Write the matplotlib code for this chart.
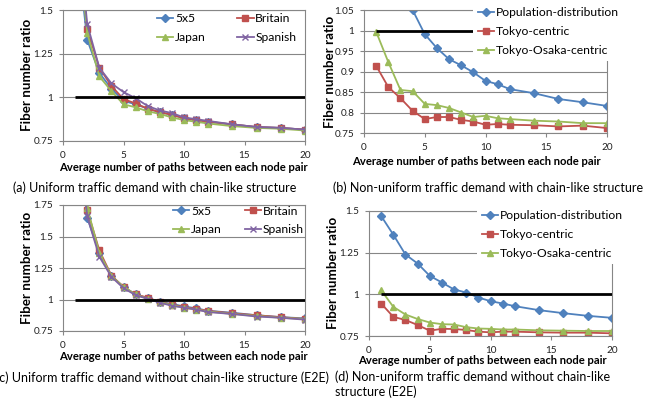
import matplotlib
matplotlib.use("Agg")
import matplotlib.pyplot as plt

plt.rcParams['font.family'] = ['Lato', 'DejaVu Sans']

W, H = 670, 409

paths = [1, 2, 3, 4, 5, 6, 7, 8, 9, 10, 11, 12, 14, 16, 18, 20]
ref_x = [1, 20]
ref_y = [1, 1]

# (a) uniform, chain-like
a_5x5 = [1.95, 1.33, 1.14, 1.05, 0.98, 0.96, 0.935, 0.915, 0.90, 0.88, 0.87, 0.86, 0.845, 0.83, 0.825, 0.815]
a_britain = [2.10, 1.39, 1.17, 1.065, 0.99, 0.965, 0.935, 0.915, 0.90, 0.88, 0.87, 0.86, 0.845, 0.83, 0.825, 0.815]
a_japan = [2.05, 1.37, 1.12, 1.036, 0.96, 0.943, 0.92, 0.905, 0.885, 0.87, 0.86, 0.85, 0.835, 0.825, 0.82, 0.81]
a_spanish = [2.15, 1.42, 1.17, 1.08, 1.03, 0.995, 0.95, 0.925, 0.91, 0.885, 0.875, 0.865, 0.845, 0.83, 0.825, 0.815]

# (b) non-uniform, chain-like
b_pop_x = [4, 5, 6, 7, 8, 9, 10, 11, 12, 14, 16, 18, 20]
b_pop = [1.05, 0.991, 0.957, 0.930, 0.915, 0.898, 0.877, 0.869, 0.857, 0.847, 0.833, 0.825, 0.816]
b_tokyo = [0.914, 0.862, 0.835, 0.804, 0.784, 0.789, 0.789, 0.782, 0.778, 0.770, 0.772, 0.770, 0.769, 0.766, 0.768, 0.762]
b_osaka = [0.997, 0.923, 0.855, 0.852, 0.821, 0.818, 0.811, 0.800, 0.789, 0.792, 0.786, 0.784, 0.780, 0.778, 0.774, 0.774]

# (c) uniform, E2E
c_5x5 = [2.6, 1.65, 1.37, 1.186, 1.10, 1.04, 1.01, 0.98, 0.965, 0.945, 0.93, 0.91, 0.895, 0.875, 0.86, 0.85]
c_britain = [2.7, 1.71, 1.39, 1.19, 1.10, 1.04, 1.015, 0.98, 0.96, 0.94, 0.925, 0.91, 0.89, 0.875, 0.86, 0.845]
c_japan = [2.8, 1.73, 1.37, 1.186, 1.10, 1.04, 1.005, 0.98, 0.955, 0.935, 0.92, 0.905, 0.885, 0.87, 0.855, 0.845]
c_spanish = [2.6, 1.66, 1.34, 1.18, 1.09, 1.035, 1.005, 0.975, 0.95, 0.935, 0.92, 0.90, 0.885, 0.865, 0.855, 0.84]

# (d) non-uniform, E2E
d_pop = [1.47, 1.358, 1.239, 1.185, 1.111, 1.071, 1.029, 1.011, 0.981, 0.959, 0.945, 0.929, 0.905, 0.887, 0.871, 0.859]
d_tokyo = [0.945, 0.865, 0.846, 0.816, 0.782, 0.793, 0.792, 0.786, 0.776, 0.772, 0.776, 0.776, 0.772, 0.770, 0.770, 0.766]
d_osaka = [1.025, 0.925, 0.879, 0.852, 0.831, 0.821, 0.819, 0.803, 0.795, 0.793, 0.789, 0.789, 0.784, 0.782, 0.780, 0.780]

captions = ["(a) Uniform traffic demand with chain-like structure",
            "(b) Non-uniform traffic demand with chain-like structure",
            "(c) Uniform traffic demand without chain-like structure (E2E)",
            "(d) Non-uniform traffic demand without chain-like\nstructure (E2E)"]

blue, red, green, purple = "#4F81BD", "#C0504D", "#9BBB59", "#8064A2"
grey = "#868686"


def box(l, t, r, b):
    return [l / W, 1 - b / H, (r - l) / W, (b - t) / H]


def fmt(v):
    s = ("%.2f" % v).rstrip("0").rstrip(".")
    return s


def setup(ax, yticks):
    ax.set_xlim(0, 20)
    ax.set_ylim(yticks[0], yticks[-1])
    ax.set_xticks([0, 5, 10, 15, 20])
    ax.set_yticks(yticks)
    ax.set_yticklabels([fmt(v) for v in yticks])
    ax.tick_params(labelsize=7.2, length=3, color=grey, pad=4, labelcolor='#222222')
    for sp in ax.spines.values():
        sp.set_color(grey)
        sp.set_linewidth(0.8)
    ax.grid(axis='y', color=grey, lw=0.8)
    ax.set_axisbelow(True)
    ax.plot(ref_x, ref_y, color='black', lw=2, zorder=3, solid_capstyle='butt')


def legend4(ax, x, y, colsp):
    h, l = ax.get_legend_handles_labels()
    order = [0, 2, 1, 3]
    ax.legend([h[i] for i in order], [l[i] for i in order], ncol=2,
              loc='upper left', bbox_to_anchor=(x, y), frameon=False,
              fontsize=8.7, handlelength=1.35, handletextpad=0.15,
              columnspacing=colsp, labelspacing=0.65, borderpad=0,
              borderaxespad=0)


def legend3(ax, x, y):
    leg = ax.legend(loc='upper left', bbox_to_anchor=(x, y), fontsize=8.7,
                    handlelength=1.35, handletextpad=0.15, labelspacing=0.65,
                    borderpad=0.4, borderaxespad=0, framealpha=1, fancybox=False)
    leg.get_frame().set_edgecolor('none')


fig = plt.figure(figsize=(W / 100, H / 100), dpi=100)

mk = dict(ms=5, lw=1.3)
dk = dict(ms=4, lw=1.3)

ax = fig.add_axes(box(63, 10, 305, 141))
setup(ax, [0.75, 1, 1.25, 1.5])
ax.plot(paths, a_5x5, '-D', color=blue, label='5x5', **dk)
ax.plot(paths, a_britain, '-s', color=red, label='Britain', **mk)
ax.plot(paths, a_japan, '-^', color=green, label='Japan', **mk)
ax.plot(paths, a_spanish, '-x', color=purple, label='Spanish', **mk)
legend4(ax, 0.388, 0.975, 2.6)

ax = fig.add_axes(box(364, 10, 607, 133))
setup(ax, [0.75, 0.8, 0.85, 0.9, 0.95, 1, 1.05])
ax.plot(b_pop_x, b_pop, '-D', color=blue, label='Population-distribution', **dk)
ax.plot(paths, b_tokyo, '-s', color=red, label='Tokyo-centric', **mk)
ax.plot(paths, b_osaka, '-^', color=green, label='Tokyo-Osaka-centric', **mk)
legend3(ax, 0.449, 1.06)

ax = fig.add_axes(box(63, 205, 305, 331))
setup(ax, [0.75, 1, 1.25, 1.5, 1.75])
ax.plot(paths, c_5x5, '-D', color=blue, label='5x5', **dk)
ax.plot(paths, c_britain, '-s', color=red, label='Britain', **mk)
ax.plot(paths, c_japan, '-^', color=green, label='Japan', **mk)
ax.plot(paths, c_spanish, '-x', color=purple, label='Spanish', **mk)
legend4(ax, 0.455, 0.995, 1.9)

ax = fig.add_axes(box(369, 211, 612, 336))
setup(ax, [0.75, 1, 1.25, 1.5])
ax.plot(paths, d_pop, '-D', color=blue, label='Population-distribution', **dk)
ax.plot(paths, d_tokyo, '-s', color=red, label='Tokyo-centric', **mk)
ax.plot(paths, d_osaka, '-^', color=green, label='Tokyo-Osaka-centric', **mk)
legend3(ax, 0.444, 1.045)

# axis titles
xl = "Average number of paths between each node pair"
for cx, cy in [(183, 167), (476, 162), (183, 357), (482, 361)]:
    fig.text(cx / W, 1 - cy / H, xl, ha='center', va='center', fontsize=8.1, fontweight='bold')
for cx, cy in [(27, 75), (330, 72), (27, 268), (333, 273)]:
    fig.text(cx / W, 1 - cy / H, "Fiber number ratio", ha='center', va='center',
             rotation=90, fontsize=9.6, fontweight='bold')

fig.text(13 / W, 1 - 188 / H, captions[0], ha='left', va='center', fontsize=9)
fig.text(333 / W, 1 - 188 / H, captions[1], ha='left', va='center', fontsize=9)
fig.text(329 / W, 1 - 378 / H, captions[2], ha='right', va='center', fontsize=9)
fig.text(335 / W, 1 - 370 / H, captions[3], ha='left', va='top', fontsize=9, linespacing=1.3)

fig.savefig("out.png", dpi=100)
